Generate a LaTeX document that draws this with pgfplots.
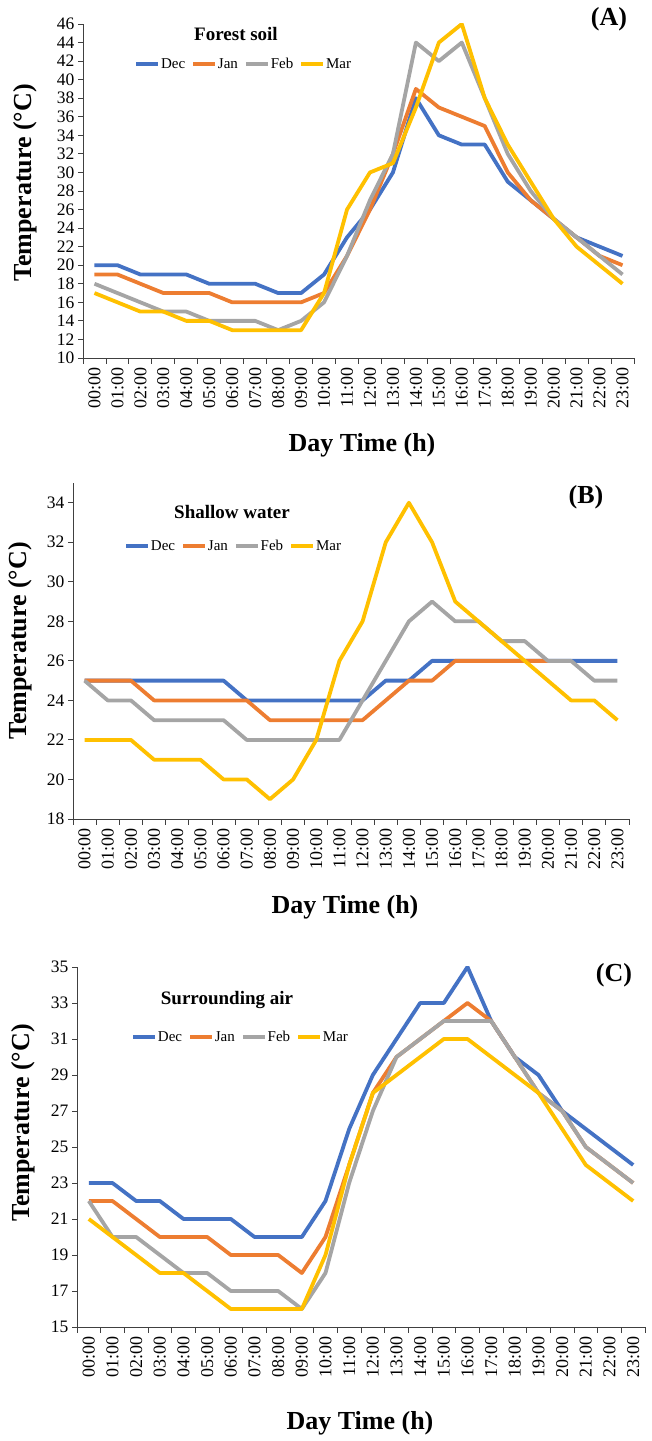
\documentclass[border=0pt]{standalone}
\usepackage{fontspec}
\setmainfont{Liberation Serif}
\usepackage{pgfplots}
\usepackage{pgfplotstable}
\pgfplotsset{compat=1.18}
\definecolor{cdec}{HTML}{4472C4}
\definecolor{cjan}{HTML}{ED7D31}
\definecolor{cfeb}{HTML}{A5A5A5}
\definecolor{cmar}{HTML}{FFC000}

% hourly temperatures, one table per panel
\pgfplotstableread{
h dec jan feb mar
0 20 19 18 17
1 20 19 17 16
2 19 18 16 15
3 19 17 15 15
4 19 17 15 14
5 18 17 14 14
6 18 16 14 13
7 18 16 14 13
8 17 16 13 13
9 17 16 14 13
10 19 17 16 17
11 23 21 21 26
12 26 26 27 30
13 30 32 32 31
14 38 39 44 37
15 34 37 42 44
16 33 36 44 46
17 33 35 38 38
18 29 30 32 33
19 27 27 28 29
20 25 25 25 25
21 23 23 23 22
22 22 21 21 20
23 21 20 19 18
}\soil
\pgfplotstableread{
h dec jan feb mar
0 25 25 25 22
1 25 25 24 22
2 25 25 24 22
3 25 24 23 21
4 25 24 23 21
5 25 24 23 21
6 25 24 23 20
7 24 24 22 20
8 24 23 22 19
9 24 23 22 20
10 24 23 22 22
11 24 23 22 26
12 24 23 24 28
13 25 24 26 32
14 25 25 28 34
15 26 25 29 32
16 26 26 28 29
17 26 26 28 28
18 26 26 27 27
19 26 26 27 26
20 26 26 26 25
21 26 nan 26 24
22 26 nan 25 24
23 26 nan 25 23
}\water
\pgfplotstableread{
h dec jan feb mar
0 23 22 22 21
1 23 22 20 20
2 22 21 20 19
3 22 20 19 18
4 21 20 18 18
5 21 20 18 17
6 21 19 17 16
7 20 19 17 16
8 20 19 17 16
9 20 18 16 16
10 22 20 18 19
11 26 24 23 24
12 29 28 27 28
13 31 30 30 29
14 33 31 31 30
15 33 32 32 31
16 35 33 32 31
17 32 32 32 30
18 30 30 30 29
19 29 28 28 28
20 27 27 27 26
21 26 25 25 24
22 25 24 24 23
23 24 23 23 22
}\air

\pgfplotsset{
  panel/.style={
    scale only axis,
    axis x line*=bottom, axis y line*=left,
    axis line style={black!75, line width=0.9bp},
    tick style={black!75, line width=0.9bp},
    tick align=outside,
    major tick length=5bp, minor tick length=6bp,
    xmin=-0.5, xmax=23.5,
    xtick={0,...,23},
    major x tick style={draw=none},
    minor xtick={-0.5,0.5,...,23.5},
    xticklabels={00:00,01:00,02:00,03:00,04:00,05:00,06:00,07:00,08:00,09:00,10:00,11:00,12:00,13:00,14:00,15:00,16:00,17:00,18:00,19:00,20:00,21:00,22:00,23:00},
    xticklabel style={rotate=90, anchor=east, font=\fontsize{18bp}{20bp}\selectfont, inner sep=4bp},
    yticklabel style={font=\fontsize{17.5bp}{20bp}\selectfont},
    /pgf/number format/assume math mode=true,
    legend columns=4,
    legend style={draw=none, fill=none, font=\fontsize{15bp}{18bp}\selectfont,
      /tikz/every even column/.append style={column sep=5bp},
      inner sep=0pt, nodes={inner sep=1pt}},
    legend image code/.code={\draw[##1, line width=3.8bp] (0bp,0bp) -- (22bp,0bp);},
    every axis plot/.append style={line width=3.8bp, line join=round, no markers},
  },
}
\tikzset{
  bigtxt/.style={font=\bfseries\fontsize{26bp}{30bp}\selectfont},
  ttl/.style={font=\bfseries\fontsize{19bp}{22bp}\selectfont},
}

\begin{document}
\begin{tikzpicture}
\path[use as bounding box] (0,0) rectangle (652bp,1441bp);

% (A) forest soil
\begin{axis}[panel, at={(83bp,1083bp)}, anchor=south west, width=551bp, height=334bp,
  ymin=10, ymax=46, ytick={10,12,...,46},
  legend style={at={(0.0926,0.88)}, anchor=west}]
\addplot[cdec] table[x=h,y=dec]{\soil};
\addplot[cjan] table[x=h,y=jan]{\soil};
\addplot[cfeb] table[x=h,y=feb]{\soil};
\addplot[cmar] table[x=h,y=mar]{\soil};
\legend{Dec,Jan,Feb,Mar}
\end{axis}
\node[ttl] at (236bp,1407bp) {Forest soil};
\node[bigtxt] at (609bp,1422bp) {(A)};
\node[bigtxt, rotate=90] at (25bp,1258bp) {Temperature (°C)};
\node[bigtxt] at (362bp,996bp) {Day Time (h)};

% (B) shallow water
\begin{axis}[panel, at={(73bp,622bp)}, anchor=south west, width=556bp, height=336bp,
  ymin=18, ymax=35, ytick={18,20,...,34},
  legend style={at={(0.0917,0.8125)}, anchor=west}]
\addplot[cdec] table[x=h,y=dec]{\water};
\addplot[cjan] table[x=h,y=jan]{\water};
\addplot[cfeb] table[x=h,y=feb]{\water};
\addplot[cmar] table[x=h,y=mar]{\water};
\legend{Dec,Jan,Feb,Mar}
\end{axis}
\node[ttl] at (232bp,929bp) {Shallow water};
\node[bigtxt] at (586bp,944bp) {(B)};
\node[bigtxt, rotate=90] at (20bp,800bp) {Temperature (°C)};
\node[bigtxt] at (345bp,534bp) {Day Time (h)};

% (C) surrounding air
\begin{axis}[panel, at={(77bp,114bp)}, anchor=south west, width=568bp, height=360bp,
  ymin=15, ymax=35, ytick={15,17,...,35},
  legend style={at={(0.095,0.806)}, anchor=west}]
\addplot[cdec] table[x=h,y=dec]{\air};
\addplot[cjan] table[x=h,y=jan]{\air};
\addplot[cfeb] table[x=h,y=feb]{\air};
\addplot[cmar] table[x=h,y=mar]{\air};
\legend{Dec,Jan,Feb,Mar}
\end{axis}
\node[ttl] at (227bp,441bp) {Surrounding air};
\node[bigtxt] at (614bp,466bp) {(C)};
\node[bigtxt, rotate=90] at (23bp,318bp) {Temperature (°C)};
\node[bigtxt] at (360bp,18bp) {Day Time (h)};
\end{tikzpicture}
\end{document}
